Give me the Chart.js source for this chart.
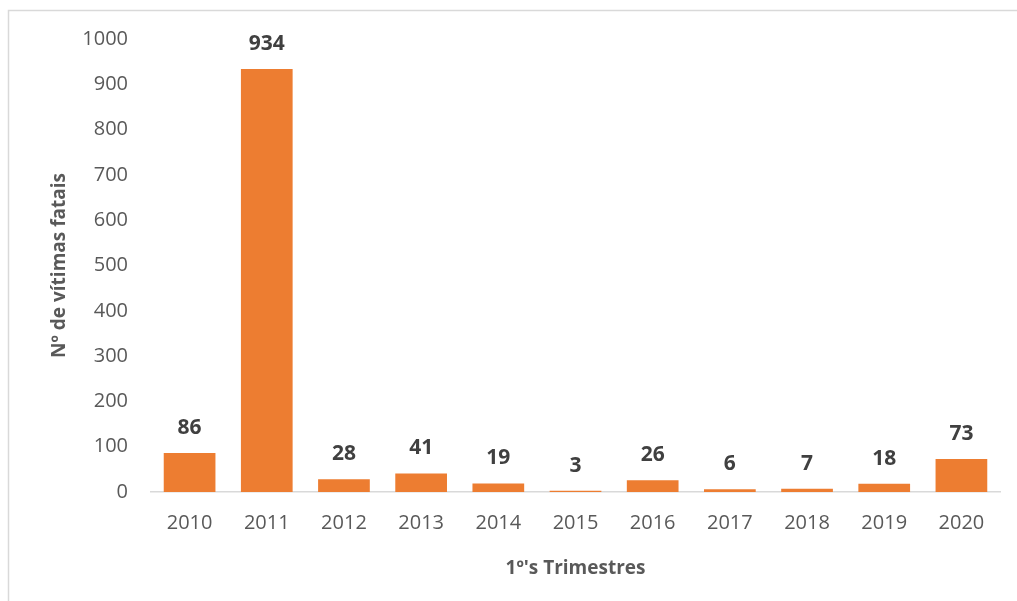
<!DOCTYPE html>
<html>
<head>
<meta charset="utf-8">
<script src="https://cdn.jsdelivr.net/npm/chart.js@4"></script>
<style>
  html, body { margin: 0; padding: 0; background: #fff; }
  canvas { display: block; }
</style>
</head>
<body>
<canvas id="victimsChart" width="1017" height="601"></canvas>
<script>
// Data
const years = ['2010', '2011', '2012', '2013', '2014', '2015', '2016', '2017', '2018', '2019', '2020'];
const victims = [86, 934, 28, 41, 19, 3, 26, 6, 7, 18, 73];
const yTicks = [0, 100, 200, 300, 400, 500, 600, 700, 800, 900, 1000];

const FONT = "'Open Sans', 'DejaVu Sans', sans-serif";

// Light frame around the whole chart
const framePlugin = {
    id: 'frame',
    beforeDraw(chart) {
        const ctx = chart.ctx;
        ctx.save();
        ctx.fillStyle = '#ffffff';
        ctx.fillRect(0, 0, chart.width, chart.height);
        ctx.strokeStyle = '#d9d9d9';
        ctx.lineWidth = 1.5;
        ctx.strokeRect(8.5, 10.5, 1100, 700);
        ctx.restore();
    }
};

// Value labels above each bar
const valueLabels = {
    id: 'valueLabels',
    afterDatasetsDraw(chart) {
        const ctx = chart.ctx;
        const meta = chart.getDatasetMeta(0);
        ctx.save();
        ctx.font = 'bold 21px ' + FONT;
        ctx.fillStyle = '#404040';
        ctx.textAlign = 'center';
        ctx.textBaseline = 'middle';
        meta.data.forEach((bar, i) => {
            ctx.fillText(victims[i], bar.x, bar.y - 25);
        });
        ctx.restore();
    }
};

const ctx = document.getElementById('victimsChart').getContext('2d');
const victimsChart = new Chart(ctx, {
    type: 'bar',
    data: {
        labels: years,
        datasets: [{
            data: victims,
            backgroundColor: '#ED7D31',
            borderWidth: 0,
            barPercentage: 0.67,
            categoryPercentage: 1.0
        }]
    },
    options: {
        responsive: false,
        animation: false,
        layout: {
            padding: { left: 40, top: 39, right: 17, bottom: 0 }
        },
        plugins: {
            legend: { display: false },
            tooltip: { enabled: false }
        },
        scales: {
            x: {
                grid: { display: false, drawTicks: false },
                border: { display: true, color: '#d9d9d9', width: 1.5 },
                ticks: {
                    color: '#595959',
                    font: { family: FONT, size: 20 },
                    padding: 19,
                    maxRotation: 0
                },
                title: {
                    display: true,
                    text: "1º's Trimestres",
                    color: '#595959',
                    font: { family: FONT, size: 19, weight: 'bold' },
                    padding: { top: 0, bottom: 21 }
                },
                afterFit(scale) {
                    scale.height = 109;
                }
            },
            y: {
                min: 0,
                max: 1000,
                afterBuildTicks(scale) {
                    scale.ticks = yTicks.map(v => ({ value: v }));
                },
                grid: { display: false, drawTicks: false },
                border: { display: false },
                ticks: {
                    color: '#595959',
                    font: { family: FONT, size: 20 },
                    padding: 23,
                    callback: value => String(value)
                },
                title: {
                    display: true,
                    text: 'Nº de vítimas fatais',
                    color: '#595959',
                    font: { family: FONT, size: 19, weight: 'bold' },
                    padding: { top: 8, bottom: 0 }
                },
                afterFit(scale) {
                    scale.width = 111;
                }
            }
        }
    },
    plugins: [framePlugin, valueLabels]
});
</script>
</body>
</html>
